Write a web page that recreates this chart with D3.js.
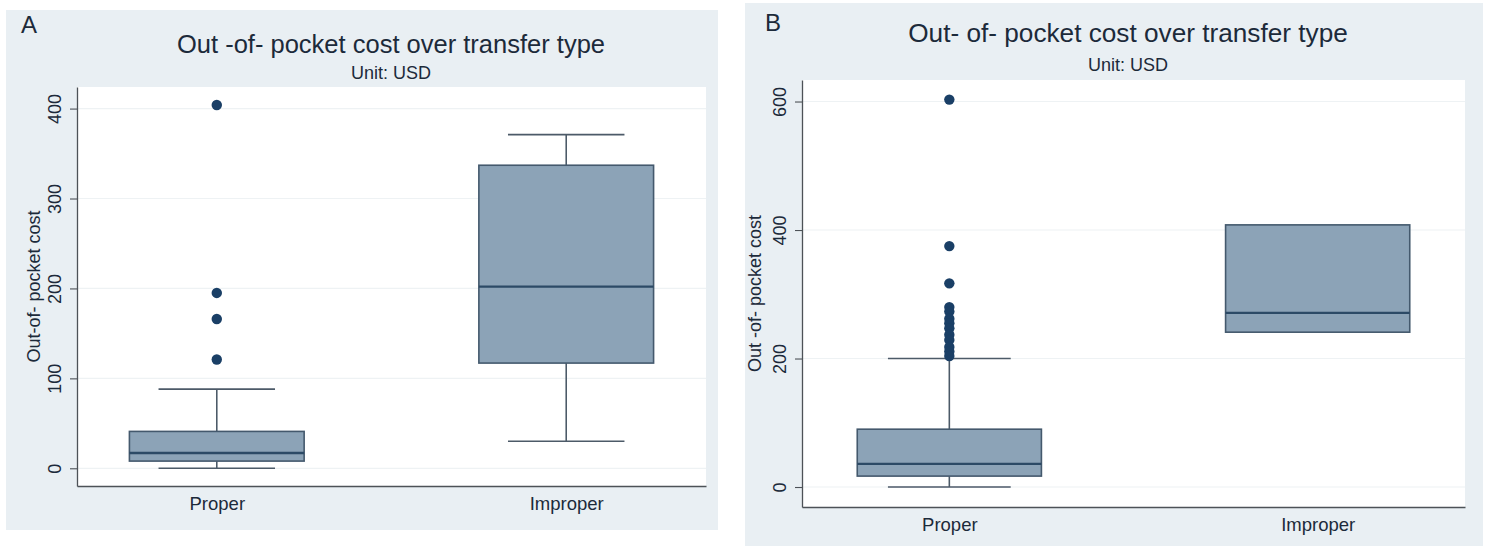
<!DOCTYPE html>
<html>
<head>
<meta charset="utf-8">
<script src="https://cdn.jsdelivr.net/npm/d3@7"></script>
<style>
  body { margin: 0; background: white; }
  text { font-family: "Liberation Sans", Arial, sans-serif; fill: #1c2a3a; }
</style>
</head>
<body>
<div id="chart-container"></div>
<script>

const categories = ["Proper", "Improper"];

// five-number summaries: [lower whisker, q1, median, q3, upper whisker]
const boxA_proper = [0, 8, 17, 41, 88];
const boxA_improper = [30, 117, 202, 337, 371];
const outliersA_proper = [404, 195, 166, 121];
const outliersA_improper = [];
const ticksA = [0, 100, 200, 300, 400];

const boxB_proper = [0, 17, 36, 90, 200];
const boxB_improper = [241, 241, 271, 408, 408];
const outliersB_proper = [603, 375, 317, 280, 273, 262, 255, 247, 237, 229, 218, 211, 204];
const outliersB_improper = [];
const ticksB = [0, 200, 400, 600];

const svg = d3.select("#chart-container")
  .append("svg")
  .attr("width", 1489)
  .attr("height", 548);


function drawPanel(p) {

  // panel background
  svg.append("rect")
    .attr("x", p.bg[0]).attr("y", p.bg[1])
    .attr("width", p.bg[2]).attr("height", p.bg[3])
    .attr("fill", "#e9eff3");

  svg.append("rect")
    .attr("x", p.left).attr("y", p.top)
    .attr("width", p.right - p.left).attr("height", p.bottom - p.top)
    .attr("fill", "white");

  const yScale = d3.scaleLinear(p.yDomain, [p.bottom, p.top]);
  const xScale = d3.scalePoint(categories, [p.left, p.right]).padding(0.4);
  const step = xScale.step();

  // gridlines
  svg.append("g")
    .selectAll("line")
    .data(p.ticks)
    .enter().append("line")
    .attr("x1", p.left).attr("x2", p.right)
    .attr("y1", d => yScale(d)).attr("y2", d => yScale(d))
    .attr("stroke", "#eef2f4")
    .attr("stroke-width", 1.2);

  // y axis
  const yAxis = d3.axisLeft(yScale).tickValues(p.ticks).tickSize(7).tickSizeOuter(0);
  const gY = svg.append("g")
    .attr("transform", `translate(${p.left}, 0)`)
    .call(yAxis);
  gY.select(".domain").attr("stroke", "#4d5257").attr("stroke-width", 1.3);
  gY.selectAll(".tick line").attr("stroke", "#4d5257").attr("stroke-width", 1.1);
  gY.selectAll(".tick text")
    .attr("x", 0).attr("dy", 0)
    .attr("text-anchor", "middle")
    .attr("transform", "translate(-16,0) rotate(-90)")
    .style("font-family", "Liberation Sans, Arial, sans-serif")
    .style("font-size", "18px")
    .attr("fill", "#1c2a3a");

  // x axis
  const xAxis = d3.axisBottom(xScale).tickSize(0).tickSizeOuter(0);
  const gX = svg.append("g")
    .attr("transform", `translate(0, ${p.bottom})`)
    .call(xAxis);
  gX.select(".domain").attr("stroke", "#4d5257").attr("stroke-width", 1.3);
  gX.selectAll(".tick text")
    .attr("y", p.xLabelY - p.bottom).attr("dy", 0)
    .style("font-family", "Liberation Sans, Arial, sans-serif")
    .style("font-size", "18.5px")
    .attr("fill", "#1c2a3a");

  const boxes = categories.map((c, i) => ({ cat: c, s: p.boxes[i] }));

  // whiskers
  const wg = svg.append("g");
  boxes.forEach(b => {
    const cx = xScale(b.cat);
    const capW = step / 3;
    [[b.s[0], b.s[1]], [b.s[3], b.s[4]]].forEach(seg => {
      if (seg[0] === seg[1]) return;
      wg.append("line")
        .attr("x1", cx).attr("x2", cx)
        .attr("y1", yScale(seg[0])).attr("y2", yScale(seg[1]))
        .attr("stroke", "#4c5a68").attr("stroke-width", 1.6);
    });
    [b.s[0], b.s[4]].forEach((v, k) => {
      if (v === b.s[k === 0 ? 1 : 3]) return;
      wg.append("line")
        .attr("x1", cx - capW / 2).attr("x2", cx + capW / 2)
        .attr("y1", yScale(v)).attr("y2", yScale(v))
        .attr("stroke", "#4c5a68").attr("stroke-width", 1.6);
    });
  });

  // boxes
  svg.selectAll(".box" + p.id)
    .data(boxes)
    .enter().append("rect")
    .attr("class", "box" + p.id)
    .attr("x", d => xScale(d.cat) - step / 4)
    .attr("y", d => yScale(d.s[3]))
    .attr("width", step / 2)
    .attr("height", d => yScale(d.s[1]) - yScale(d.s[3]))
    .attr("fill", "#8ca3b7")
    .attr("stroke", "#44596d")
    .attr("stroke-width", 1.6);

  // medians
  svg.selectAll(".med" + p.id)
    .data(boxes)
    .enter().append("line")
    .attr("class", "med" + p.id)
    .attr("x1", d => xScale(d.cat) - step / 4)
    .attr("x2", d => xScale(d.cat) + step / 4)
    .attr("y1", d => yScale(d.s[2]))
    .attr("y2", d => yScale(d.s[2]))
    .attr("stroke", "#2c4a66")
    .attr("stroke-width", 2.4);

  // outliers
  const pts = [];
  categories.forEach((c, i) => p.outliers[i].forEach(v => pts.push({ cat: c, v: v })));
  svg.selectAll(".out" + p.id)
    .data(pts)
    .enter().append("circle")
    .attr("class", "out" + p.id)
    .attr("cx", d => xScale(d.cat))
    .attr("cy", d => yScale(d.v))
    .attr("r", 5.2)
    .attr("fill", "#1a3f66");

  // titles
  svg.append("text")
    .attr("x", p.titleX).attr("y", p.titleY)
    .attr("text-anchor", "middle")
    .style("font-size", p.titleSize + "px")
    .text(p.title);
  svg.append("text")
    .attr("x", p.titleX).attr("y", p.subY)
    .attr("text-anchor", "middle")
    .style("font-size", "18px")
    .attr("fill", "#111")
    .text("Unit: USD");

  svg.append("text")
    .attr("transform", `translate(${p.yTitleX}, ${(p.top + p.bottom) / 2}) rotate(-90)`)
    .attr("text-anchor", "middle")
    .style("font-size", "18px")
    .attr("fill", "#111")
    .text(p.yTitle);

  svg.append("text")
    .attr("x", p.letterX).attr("y", p.letterY)
    .style("font-size", "24px")
    .attr("fill", "#111")
    .text(p.letter);
}


drawPanel({
  id: "A", letter: "A", letterX: 21, letterY: 33,
  bg: [6, 10, 712, 520],
  left: 77, right: 706, top: 87, bottom: 486,
  yDomain: [-19.7, 424],
  ticks: ticksA,
  boxes: [boxA_proper, boxA_improper],
  outliers: [outliersA_proper, outliersA_improper],
  title: "Out -of- pocket cost over transfer type",
  titleX: 391, titleY: 53, titleSize: 25.5, subY: 79,
  yTitle: "Out-of- pocket cost", yTitleX: 40,
  xLabelY: 510
});

drawPanel({
  id: "B", letter: "B", letterX: 765, letterY: 31,
  bg: [745, 3, 738, 543],
  left: 802, right: 1465, top: 80, bottom: 507,
  yDomain: [-31.1, 633.5],
  ticks: ticksB,
  boxes: [boxB_proper, boxB_improper],
  outliers: [outliersB_proper, outliersB_improper],
  title: "Out- of- pocket cost over transfer type",
  titleX: 1128, titleY: 42, titleSize: 26.2, subY: 71,
  yTitle: "Out -of- pocket cost", yTitleX: 761,
  xLabelY: 531
});

</script>
</body>
</html>
